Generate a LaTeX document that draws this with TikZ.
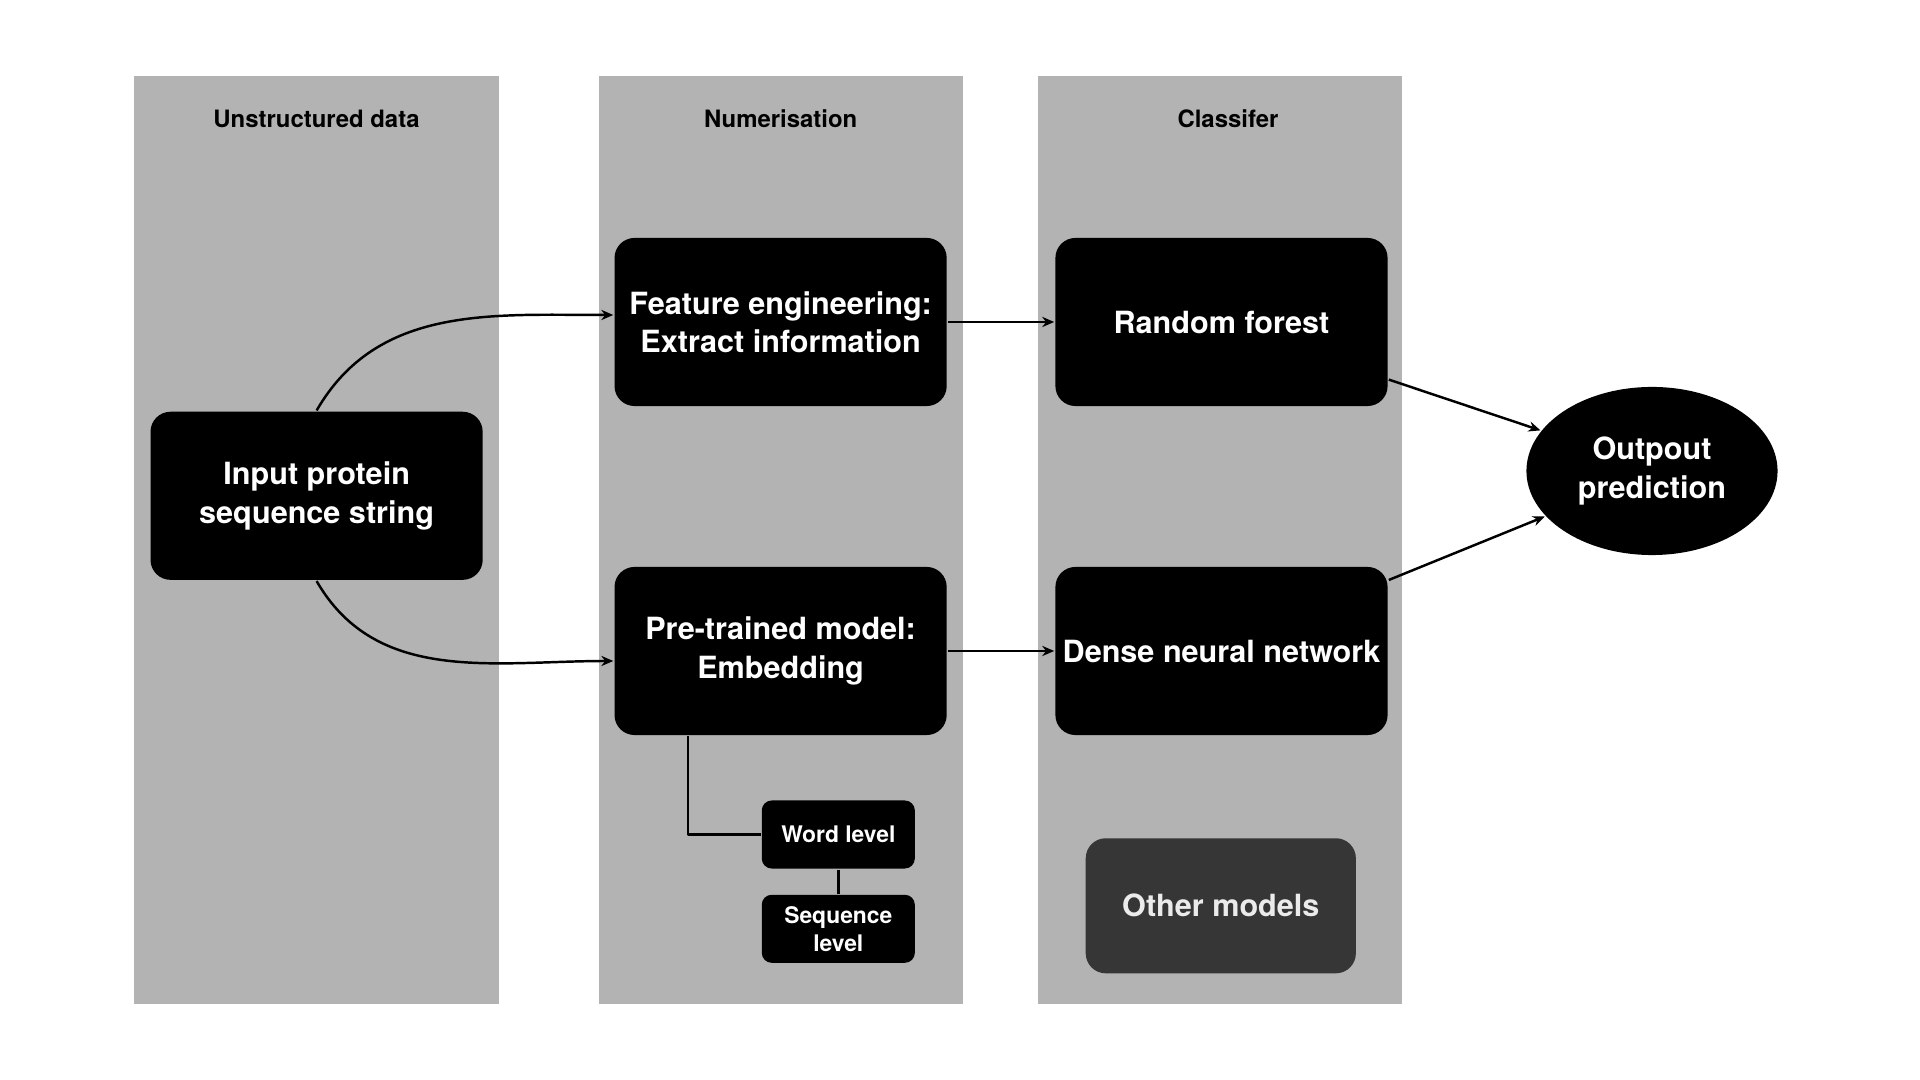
\documentclass[tikz,border=0pt]{standalone}
\usepackage{fontspec}
\setmainfont{TeX Gyre Heros}
\usetikzlibrary{shapes.geometric,arrows.meta}
\definecolor{lanegray}{HTML}{B3B3B3}
\definecolor{otherfill}{HTML}{363636}
\definecolor{othertext}{HTML}{EBEBEB}
\newcommand{\boxfont}{\fontsize{8.7}{10.9}\selectfont\bfseries}
\newcommand{\smallboxfont}{\fontsize{6.5}{8}\selectfont\bfseries}
\newcommand{\lanefont}{\fontsize{6.8}{8}\selectfont\bfseries}
\tikzset{
  lane/.style={rectangle,fill=lanegray,minimum width=3.64cm,minimum height=9.28cm,inner sep=0},
  lanetitle/.style={font=\lanefont,text=black,inner sep=0},
  blk/.style={rectangle,rounded corners=0.2cm,fill=black,text=white,font=\boxfont,align=center,minimum width=3.32cm,minimum height=1.68cm,inner sep=0},
  smallblk/.style={rectangle,rounded corners=0.1cm,fill=black,text=white,font=\smallboxfont,align=center,minimum width=1.53cm,minimum height=0.68cm,inner sep=0},
  otherblk/.style={blk,fill=otherfill,text=othertext,minimum width=2.7cm,minimum height=1.35cm},
  outblk/.style={ellipse,fill=black,text=white,font=\boxfont,align=center,minimum width=2.51cm,minimum height=1.68cm,inner sep=0}
}
\begin{document}
\begin{tikzpicture}[x=0.01cm,y=-0.01cm,>={Stealth[length=3.4pt,width=2.9pt]},line width=0.7pt,line join=round]
\useasboundingbox (0,0) rectangle (1920,1080);
% swimlanes
\node[lane] (lane1) at (316.5,540) {};
\node[lane] (lane2) at (780.7,540) {};
\node[lane] (lane3) at (1220.2,540) {};
\node[lanetitle] (t1) at (316.5,119) {Unstructured data};
\node[lanetitle] (t2) at (780.7,119) {Numerisation};
\node[lanetitle] (t3) at (1228,119) {Classifer};
% boxes
\node[blk] (inp) at (316.6,495.8) {Input protein\\sequence string};
\node[blk] (fe) at (780.6,322) {Feature engineering:\\Extract information};
\node[blk] (pre) at (780.6,651) {Pre-trained model:\\Embedding};
\node[blk] (rf) at (1221.5,322) {Random forest};
\node[blk] (dnn) at (1221.5,651) {Dense neural network};
\node[otherblk] (oth) at (1220.8,905.8) {Other models};
\node[smallblk] (wl) at (838.3,834.5) {Word level};
\node[smallblk] (sl) at (838.3,928.8) {Sequence\\level};
\node[outblk] (out) at (1652,471) {Outpout\\prediction};
% connectors
\draw[->] (inp.north) to[out=60,in=180] ([yshift=0.07cm]fe.west);
\draw[->] (inp.south) to[out=-60,in=180] ([yshift=-0.1cm]pre.west);
\draw[->] (fe.east) -- (rf.west);
\draw[->] (pre.east) -- (dnn.west);
\draw[->] (rf.-19.6) -- (out.160.7);
\draw[->] (dnn.23.2) -- (out.203.7);
\draw ([xshift=-0.923cm]pre.south) |- (wl.west);
\draw (wl.south) -- (sl.north);
\end{tikzpicture}
\end{document}
